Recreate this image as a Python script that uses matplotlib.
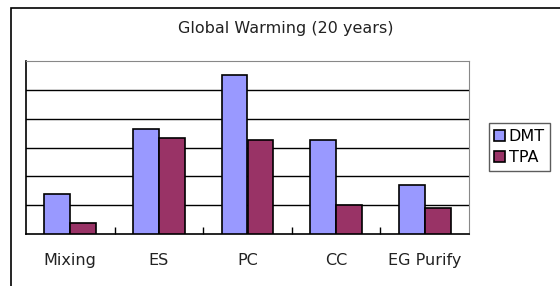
import matplotlib.pyplot as plt
import numpy as np
from matplotlib.patches import Rectangle

categories = ["Mixing", "ES", "PC", "CC", "EG Purify"]
dmt = [1.39, 3.63, 5.51, 3.26, 1.69]
tpa = [0.37, 3.34, 3.26, 1.0, 0.89]

W, H = 560, 286
fig = plt.figure(figsize=(W / 100, H / 100), dpi=100)
fig.patch.set_facecolor("white")

# outer chart frame (runs off right and bottom edges)
fig.patches.append(Rectangle((11 / W, -0.1), 1.2, 1 - 8 / H + 0.1,
                             transform=fig.transFigure, fill=False,
                             edgecolor="black", linewidth=1.2))

ax = fig.add_axes([26 / W, 1 - 234 / H, (469 - 26) / W, (234 - 61) / H])
x = np.arange(len(categories))
bw = 0.293
ax.bar(x - bw / 2, dmt, bw, color="#9999FF", edgecolor="black", linewidth=1.2, label="DMT", zorder=3)
ax.bar(x + bw / 2, tpa, bw, color="#993366", edgecolor="black", linewidth=1.2, label="TPA", zorder=3)

ax.set_xlim(-0.5, len(categories) - 0.5)
ax.set_ylim(0, 6)
ax.set_yticks(range(1, 6))
ax.yaxis.grid(True, color="black", linewidth=1)
ax.set_yticklabels([])
ax.tick_params(axis="y", length=0)
ax.set_xticks(np.arange(0.5, len(categories) - 0.5), minor=False)
ax.set_xticklabels([])
ax.tick_params(axis="x", direction="in", length=5, width=1)
ax.set_xticks(x, minor=True)
ax.set_xticklabels(categories, minor=True, fontsize=11.5, color="#222222")
ax.tick_params(axis="x", which="minor", length=0, pad=14)

for side in ["top", "right"]:
    ax.spines[side].set_color("#888888")
for side in ["left", "bottom"]:
    ax.spines[side].set_color("black")
    ax.spines[side].set_linewidth(1.2)

fig.text(286 / W, 1 - 29 / H, "Global Warming (20 years)", ha="center", va="center",
         fontsize=11.5, color="#222222")

leg = fig.legend(loc="center", bbox_to_anchor=(519.5 / W, 1 - 147 / H), fontsize=11.5,
                 frameon=True, fancybox=False, handlelength=0.7, handleheight=0.7,
                 handletextpad=0.2, borderpad=0.35, labelspacing=0.4)
leg.get_frame().set_edgecolor("#333333")
leg.get_frame().set_linewidth(1)

fig.savefig("out.png", dpi=100)
